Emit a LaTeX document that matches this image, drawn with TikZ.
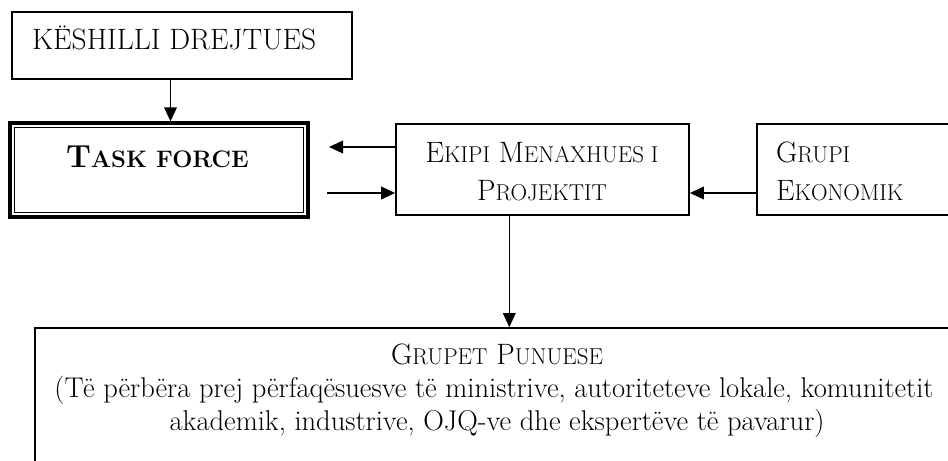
\documentclass[tikz,border=0pt]{standalone}
\usetikzlibrary{arrows.meta}
\newcommand\mainsz{\fontsize{22.1pt}{26pt}\selectfont}
\newcommand\lowsz{\fontsize{21.4pt}{26pt}\selectfont}
\newcommand\smc[1]{{\fontsize{17.2pt}{20pt}\selectfont #1}}
\newcommand\bsmc[1]{{\fontsize{17.9pt}{20pt}\selectfont #1}}
\tikzset{
  box/.style={draw=black, line width=1.3pt, rectangle, inner sep=0pt},
  lbl/.style={inner sep=0pt, outer sep=0pt, font=\mainsz, text=black},
  arr/.style={draw=black, line width=1.15pt, -{Triangle[length=10.5pt,width=9.5pt]}},
}
\begin{document}
\begin{tikzpicture}[x=0.75pt,y=-0.75pt]
\useasboundingbox (0,0) rectangle (948,460);
\fill[white] (0,0) rectangle (948,460);
\clip (0,0) rectangle (948,460);
% boxes
\node[box, minimum width=255pt, minimum height=50.25pt] (kd) at (182,45.5) {};
\node[box, line width=1pt, minimum width=225pt, minimum height=72pt] (tf) at (159,170) {};
\draw[line width=1.6pt] ([shift={(3,3)}]tf.north west) rectangle ([shift={(-3,-3)}]tf.south east);
\draw[line width=1pt] ([shift={(6,6)}]tf.north west) rectangle ([shift={(-6,-6)}]tf.south east);
\node[box, minimum width=219.75pt, minimum height=68.25pt] (ekipi) at (542.5,169.5) {};
\node[box, minimum width=182.25pt, minimum height=68.25pt] (grupi) at (878.5,169.5) {};
\node[box, minimum width=691.5pt, minimum height=144pt] (grupet) at (496,424) {};
% texts
\node[lbl, anchor=base west] (kdt) at (32,50) {KËSHILLI DREJTUES};
\node[lbl, anchor=base west, font=\bfseries\fontsize{23.9pt}{28pt}\selectfont] (tft) at (66,167) {T\bsmc{ASK FORCE}};
\node[lbl, anchor=base] (e1) at (542,162) {E\smc{KIPI} M\smc{ENAXHUES I}};
\node[lbl, anchor=base] (e2) at (542,200) {P\smc{ROJEKTIT}};
\node[lbl, anchor=base west] (g1) at (776,162) {G\smc{RUPI}};
\node[lbl, anchor=base west] (g2) at (776,200) {E\smc{KONOMIK}};
\node[lbl, anchor=base] (p1) at (497,364) {G\smc{RUPET} P\smc{UNUESE}};
\node[lbl, font=\lowsz, anchor=base] (p2) at (494,397) {(Të përbëra prej përfaqësuesve të ministrive, autoriteteve lokale, komunitetit};
\node[lbl, font=\lowsz, anchor=base] (p3) at (497,430) {akademik, industrive, OJQ-ve dhe ekspertëve të pavarur)};
% connectors
\coordinate (kx) at (170.5,0);
\draw[arr] (kx |- kd.south) -- (kx |- tf.north);
\coordinate (tl) at (329,147);
\draw[arr] (tl -| ekipi.west) -- (tl);
\coordinate (bl) at (327,193);
\draw[arr] (bl) -- (bl -| ekipi.west);
\draw[arr] (bl -| grupi.west) -- (bl -| ekipi.east);
\coordinate (vx) at (509.3,0);
\draw[arr] (vx |- ekipi.south) -- (vx |- grupet.north);
\end{tikzpicture}
\end{document}
